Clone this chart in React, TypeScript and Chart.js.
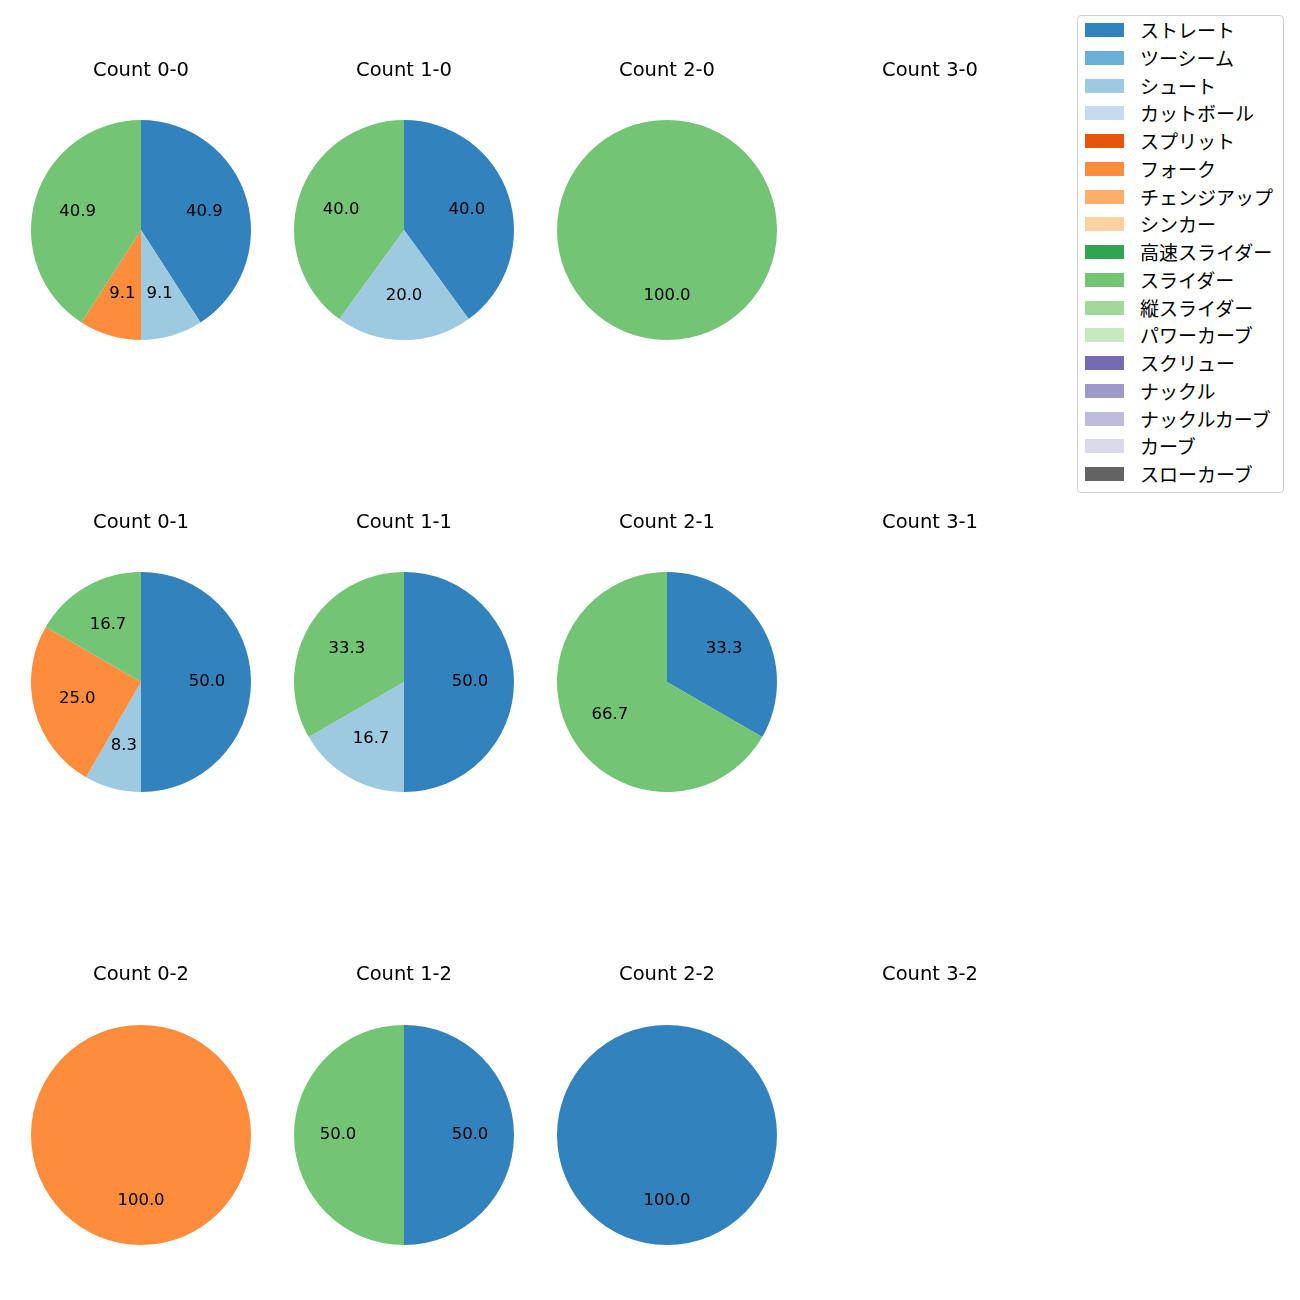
import React, { useEffect, useRef } from "react";
import { Chart, registerables } from "chart.js";

Chart.register(...registerables);

const pitchTypes = [
  "ストレート", "ツーシーム", "シュート", "カットボール", "スプリット", "フォーク",
  "チェンジアップ", "シンカー", "高速スライダー", "スライダー", "縦スライダー",
  "パワーカーブ", "スクリュー", "ナックル", "ナックルカーブ", "カーブ", "スローカーブ",
];
const pitchColors = [
  "#3182bd", "#6baed6", "#9ecae1", "#c6dbef", "#e6550d", "#fd8d3c",
  "#fdae6b", "#fdd0a2", "#31a354", "#74c476", "#a1d99b", "#c7e9c0",
  "#756bb1", "#9e9ac8", "#bcbddc", "#dadaeb", "#636363",
];

// counts per pitch type (same order as pitchTypes)
const count00 = [9, 0, 2, 0, 0, 2, 0, 0, 0, 9, 0, 0, 0, 0, 0, 0, 0];
const count10 = [2, 0, 1, 0, 0, 0, 0, 0, 0, 2, 0, 0, 0, 0, 0, 0, 0];
const count20 = [0, 0, 0, 0, 0, 0, 0, 0, 0, 1, 0, 0, 0, 0, 0, 0, 0];
const count30 = [0, 0, 0, 0, 0, 0, 0, 0, 0, 0, 0, 0, 0, 0, 0, 0, 0];
const count01 = [6, 0, 1, 0, 0, 3, 0, 0, 0, 2, 0, 0, 0, 0, 0, 0, 0];
const count11 = [3, 0, 1, 0, 0, 0, 0, 0, 0, 2, 0, 0, 0, 0, 0, 0, 0];
const count21 = [1, 0, 0, 0, 0, 0, 0, 0, 0, 2, 0, 0, 0, 0, 0, 0, 0];
const count31 = [0, 0, 0, 0, 0, 0, 0, 0, 0, 0, 0, 0, 0, 0, 0, 0, 0];
const count02 = [0, 0, 0, 0, 0, 1, 0, 0, 0, 0, 0, 0, 0, 0, 0, 0, 0];
const count12 = [1, 0, 0, 0, 0, 0, 0, 0, 0, 1, 0, 0, 0, 0, 0, 0, 0];
const count22 = [1, 0, 0, 0, 0, 0, 0, 0, 0, 0, 0, 0, 0, 0, 0, 0, 0];
const count32 = [0, 0, 0, 0, 0, 0, 0, 0, 0, 0, 0, 0, 0, 0, 0, 0, 0];

const panelTitles = [
  ["Count 0-0", "Count 1-0", "Count 2-0", "Count 3-0"],
  ["Count 0-1", "Count 1-1", "Count 2-1", "Count 3-1"],
  ["Count 0-2", "Count 1-2", "Count 2-2", "Count 3-2"],
];
const panelData = [
  [count00, count10, count20, count30],
  [count01, count11, count21, count31],
  [count02, count12, count22, count32],
];

const LATIN = "'DejaVu Sans', 'Noto Sans CJK JP', sans-serif";
const CJK = "'Noto Sans CJK JP', 'DejaVu Sans', sans-serif";
const colCenters = [141, 404, 667, 930];
const rowCenters = [230, 682, 1135];
const titleCenters = [71, 523, 975];
const R = 110;
const TITLE_SIZE = 19.5;
const LH = TITLE_SIZE * 1.2;
const PANEL_W = 240;

const pctPlugin = {
  id: "pctLabels",
  afterDatasetsDraw(chart: any) {
    const ds = chart.data.datasets[0];
    if (!ds) return;
    const data: number[] = ds.data;
    const total = data.reduce((a, b) => a + b, 0);
    if (!total) return;
    const meta = chart.getDatasetMeta(0);
    const ctx = chart.ctx;
    ctx.save();
    ctx.font = `16.5px ${LATIN}`;
    ctx.fillStyle = "#000";
    ctx.textAlign = "center";
    ctx.textBaseline = "middle";
    meta.data.forEach((arc: any, i: number) => {
      const v = data[i];
      if (!v) return;
      const p = arc.getProps(["x", "y", "startAngle", "endAngle", "outerRadius"], true);
      const mid = (p.startAngle + p.endAngle) / 2;
      const r = p.outerRadius * 0.6;
      ctx.fillText(((v / total) * 100).toFixed(1), p.x + Math.cos(mid) * r, p.y + Math.sin(mid) * r);
    });
    ctx.restore();
  },
};

function Panel({ row, col }: { row: number; col: number }) {
  const ref = useRef<HTMLCanvasElement>(null);
  const canvasTop = titleCenters[row] - 22;
  const padTop = titleCenters[row] - canvasTop - LH / 2;
  const pieTop = rowCenters[row] - R;
  const padBottom = pieTop - (canvasTop + padTop + LH);
  const height = rowCenters[row] + R - canvasTop;
  const left = colCenters[col] - PANEL_W / 2;

  useEffect(() => {
    const c = new Chart(ref.current!, {
      type: "pie",
      data: {
        labels: pitchTypes,
        datasets: [
          {
            data: panelData[row][col],
            backgroundColor: pitchColors,
            borderWidth: 0,
          },
        ],
      },
      options: {
        animation: false,
        responsive: false,
        maintainAspectRatio: false,
        layout: { padding: 0 },
        plugins: {
          legend: { display: false },
          tooltip: { enabled: false },
          title: {
            display: true,
            text: panelTitles[row][col],
            color: "#000",
            font: { family: LATIN, size: TITLE_SIZE, weight: "normal" as any, lineHeight: 1.2 },
            padding: { top: padTop, bottom: padBottom },
          },
        },
      },
      plugins: [pctPlugin],
    });
    return () => c.destroy();
  }, [row, col]);

  return (
    <canvas
      ref={ref}
      width={PANEL_W}
      height={height}
      style={{ position: "absolute", left, top: canvasTop, width: PANEL_W, height }}
    />
  );
}

function Legend() {
  return (
    <div
      style={{
        position: "absolute",
        left: 1077,
        top: 15,
        width: 205,
        height: 476,
        border: "1px solid #d0d0d0",
        borderRadius: 4,
        background: "#fff",
        fontFamily: CJK,
      }}
    >
      {pitchTypes.map((t, i) => {
        const cy = 14 + i * 27.75;
        return (
          <div key={t}>
            <div
              style={{
                position: "absolute",
                left: 7,
                top: cy - 7,
                width: 39,
                height: 14,
                background: pitchColors[i],
              }}
            />
            <div
              style={{
                position: "absolute",
                left: 62,
                top: cy - 13,
                height: 26,
                lineHeight: "26px",
                fontSize: 19,
                color: "#000",
                whiteSpace: "nowrap",
              }}
            >
              {t}
            </div>
          </div>
        );
      })}
    </div>
  );
}

export default function App() {
  const panels = [];
  for (let r = 0; r < 3; r++) for (let c = 0; c < 4; c++) panels.push(<Panel key={`${r}-${c}`} row={r} col={c} />);
  return (
    <div style={{ position: "absolute", left: 0, top: 0, width: 1300, height: 1300, background: "#fff" }}>
      {panels}
      <Legend />
    </div>
  );
}
